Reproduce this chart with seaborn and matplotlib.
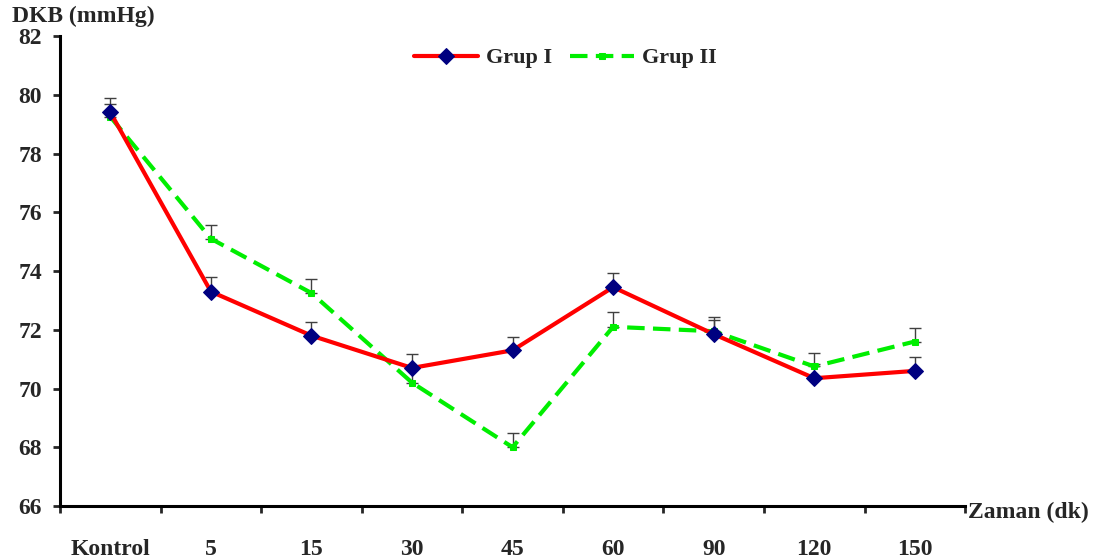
import numpy as np
import pandas as pd
import matplotlib
matplotlib.use('Agg')
import matplotlib.pyplot as plt
import seaborn as sns

# data
categories = ['Kontrol', '5', '15', '30', '45', '60', '90', '120', '150']
grup1_mean = [79.4, 73.3, 71.8, 70.7, 71.3, 73.45, 71.85, 70.35, 70.6]
grup1_se = [0.5, 0.48, 0.47, 0.48, 0.45, 0.48, 0.48, 0.5, 0.48]
grup2_mean = [79.25, 75.1, 73.25, 70.2, 68.0, 72.1, 71.95, 70.75, 71.6]
grup2_se = [0.45, 0.47, 0.47, 0.45, 0.5, 0.5, 0.48, 0.45, 0.45]
y_ticks = [66, 68, 70, 72, 74, 76, 78, 80, 82]

sns.set_style('ticks')
plt.rcParams['font.family'] = ['Liberation Serif', 'DejaVu Serif']
plt.rcParams['font.weight'] = 'bold'

pos = np.arange(len(categories))
df1 = pd.DataFrame({'pos': pos, 'val': grup1_mean})
df2 = pd.DataFrame({'pos': pos, 'val': grup2_mean})

fig = plt.figure(figsize=(11.06, 5.6), dpi=100)
ax = fig.add_axes([0.0543, 0.0964, 0.8183, 0.8393])

# error bars (upper only, like Excel)
ax.errorbar(pos, grup1_mean, yerr=[np.zeros(len(pos)), grup1_se], fmt='none',
            ecolor='#404040', elinewidth=1, capsize=4.5, capthick=1, zorder=1.5)
ax.errorbar(pos, grup2_mean, yerr=[np.zeros(len(pos)), grup2_se], fmt='none',
            ecolor='#404040', elinewidth=1, capsize=4.5, capthick=1, zorder=1.5)

sns.lineplot(data=df1, x='pos', y='val', ax=ax, color='#FF0000', linewidth=3,
             marker='D', markersize=8, markerfacecolor='#000080',
             markeredgecolor='#000080', label='Grup I', zorder=3)
sns.lineplot(data=df2, x='pos', y='val', ax=ax, color='#00EE00', linewidth=3,
             marker='s', markersize=4, markerfacecolor='#00EE00',
             markeredgecolor='#00EE00', label='Grup II', zorder=2.5)
ax.lines[-1].set_dashes((4.2, 2))

ax.set_xlim(-0.5, len(categories) - 0.5)
ax.set_ylim(66, 82)
ax.set_yticks(y_ticks)
ax.set_yticklabels([str(t) for t in y_ticks], fontsize=17, fontweight='bold')
ax.set_xticks(pos)
ax.set_xticklabels(categories, fontsize=17, fontweight='bold')
ax.set_xticks(np.arange(len(categories) + 1) - 0.5, minor=True)
ax.tick_params(axis='x', which='major', length=0, pad=24)
ax.tick_params(axis='x', which='minor', length=5, width=2, direction='out')
ax.tick_params(axis='y', length=5, width=2, direction='out', pad=8)
ax.set_xlabel('')
ax.set_ylabel('')

for s in ['top', 'right']:
    ax.spines[s].set_visible(False)
for s in ['left', 'bottom']:
    ax.spines[s].set_linewidth(2.2)
    ax.spines[s].set_color('black')

leg = ax.legend(loc='center', bbox_to_anchor=(0.558, 0.953), ncol=2,
                frameon=False, handlelength=2.9, handletextpad=0.35,
                columnspacing=0.8, prop={'size': 16, 'weight': 'bold'})

fig.text(12 / 1106, 1 - 16 / 560, 'DKB (mmHg)', fontsize=17, fontweight='bold',
         va='center', ha='left')
fig.text(968 / 1106, 1 - 512 / 560, 'Zaman (dk)', fontsize=17, fontweight='bold',
         va='center', ha='left')

fig.savefig('out.png', dpi=100)
